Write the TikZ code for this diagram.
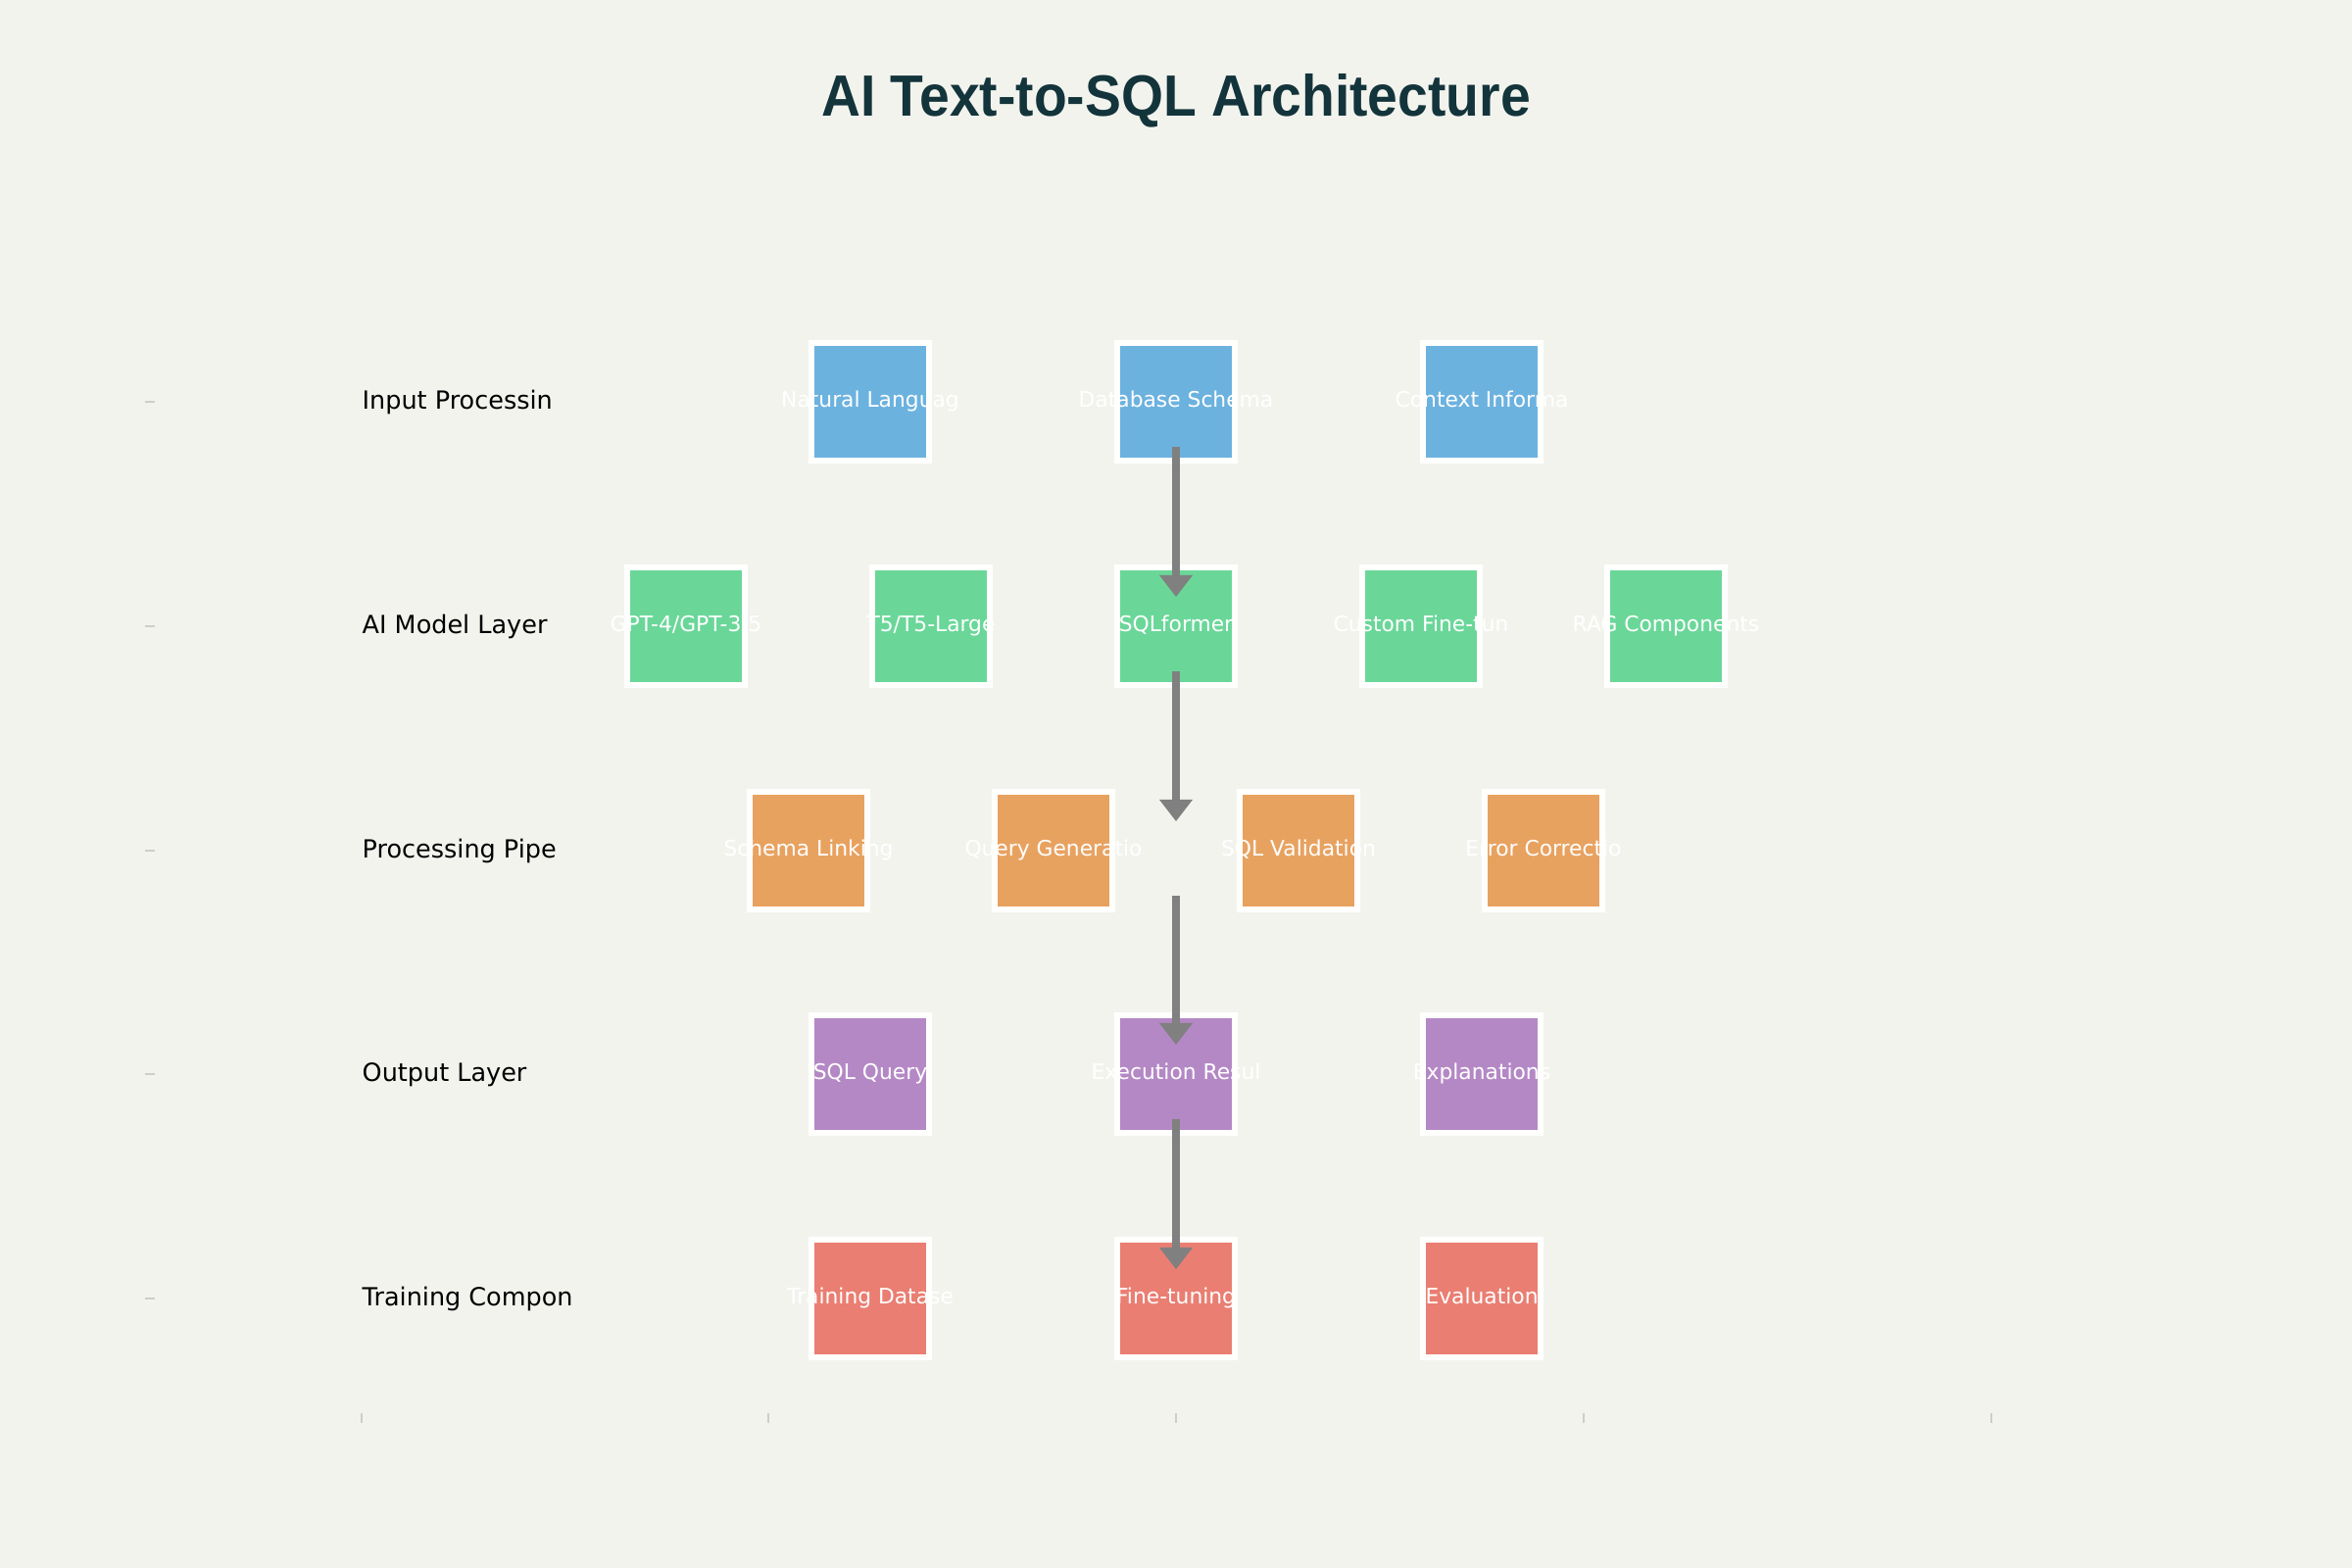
\documentclass[tikz,border=0pt]{standalone}
\usepackage{fontspec}
\setmainfont{DejaVu Sans}
\newfontfamily\titlefont[FakeStretch=0.93]{Liberation Sans}
\usetikzlibrary{arrows.meta}

\definecolor{bgpaper}{HTML}{F3F3EE}
\definecolor{titleteal}{HTML}{13343B}
\definecolor{inputblue}{HTML}{6CB2DF}
\definecolor{modelgreen}{HTML}{6AD799}
\definecolor{procorange}{HTML}{E8A260}
\definecolor{outpurple}{HTML}{B488C5}
\definecolor{trainred}{HTML}{EA7E72}
\definecolor{flowgray}{HTML}{808080}
\definecolor{tickgray}{HTML}{CFCDC8}

\tikzset{
  unitbox/.style={draw=white!96!bgpaper, line width=0.06cm, minimum width=1.2cm, minimum height=1.2cm, inner sep=0pt},
  boxtext/.style={text=white, font=\fontsize{6.2}{7.4}\selectfont, inner sep=0pt, text height=4.7pt, text depth=1.5pt},
  layername/.style={anchor=base west, font=\fontsize{7.25}{8.7}\selectfont, inner sep=0pt},
  flow/.style={flowgray, line width=0.073cm, -{Triangle[width=0.34cm,length=0.22cm,line width=0pt]}},
  axistick/.style={tickgray, line width=0.025cm},
}

\begin{document}
\begin{tikzpicture}[x=0.01cm, y=-0.01cm]
  \fill[bgpaper] (0,0) rectangle (2400,1600);
  \useasboundingbox (0,0) rectangle (2400,1600);

  \node[anchor=base, inner sep=0pt, text=titleteal, font=\titlefont\bfseries\fontsize{16.9}{20}\selectfont] (title) at (1200,119) {AI Text-to-SQL Architecture};

  % layer names
  \node[layername] (inputname) at (369,417) {Input Processin};
  \node[layername] (modelname) at (369,646) {AI Model Layer};
  \node[layername] (pipename) at (369,875) {Processing Pipe};
  \node[layername] (outputname) at (369,1103) {Output Layer};
  \node[layername] (trainname) at (369,1332) {Training Compon};

  % axis ticks
  \draw[axistick] (148,410) -- (158,410);
  \draw[axistick] (148,639) -- (158,639);
  \draw[axistick] (148,868) -- (158,868);
  \draw[axistick] (148,1096) -- (158,1096);
  \draw[axistick] (148,1325) -- (158,1325);
  \draw[axistick] (369,1442) -- (369,1452);
  \draw[axistick] (784,1442) -- (784,1452);
  \draw[axistick] (1200,1442) -- (1200,1452);
  \draw[axistick] (1616,1442) -- (1616,1452);
  \draw[axistick] (2032,1442) -- (2032,1452);

  % input processing
  \node[unitbox, fill=inputblue, label={[boxtext]center:Natural Languag}] (natlang) at (888,410) {};
  \node[unitbox, fill=inputblue, label={[boxtext]center:Database Schema}] (dbschema) at (1200,410) {};
  \node[unitbox, fill=inputblue, label={[boxtext]center:Context Informa}] (context) at (1512,410) {};

  % ai models
  \node[unitbox, fill=modelgreen, label={[boxtext]center:GPT-4/GPT-3.5}] (gpt) at (700,639) {};
  \node[unitbox, fill=modelgreen, label={[boxtext]center:T5/T5-Large}] (tfive) at (950,639) {};
  \node[unitbox, fill=modelgreen, label={[boxtext]center:SQLformer}] (sqlformer) at (1200,639) {};
  \node[unitbox, fill=modelgreen, label={[boxtext]center:Custom Fine-tun}] (custom) at (1450,639) {};
  \node[unitbox, fill=modelgreen, label={[boxtext]center:RAG Components}] (rag) at (1700,639) {};

  % processing pipeline
  \node[unitbox, fill=procorange, label={[boxtext]center:Schema Linking}] (linking) at (825,868) {};
  \node[unitbox, fill=procorange, label={[boxtext]center:Query Generatio}] (querygen) at (1075,868) {};
  \coordinate (pipegap) at (1200,868);
  \node[unitbox, fill=procorange, label={[boxtext]center:SQL Validation}] (validation) at (1325,868) {};
  \node[unitbox, fill=procorange, label={[boxtext]center:Error Correctio}] (correction) at (1575,868) {};

  % output
  \node[unitbox, fill=outpurple, label={[boxtext]center:SQL Query}] (sqlquery) at (888,1096) {};
  \node[unitbox, fill=outpurple, label={[boxtext]center:Execution Resul}] (execution) at (1200,1096) {};
  \node[unitbox, fill=outpurple, label={[boxtext]center:Explanations}] (explain) at (1512,1096) {};

  % training
  \node[unitbox, fill=trainred, label={[boxtext]center:Training Datase}] (dataset) at (888,1325) {};
  \node[unitbox, fill=trainred, label={[boxtext]center:Fine-tuning}] (finetune) at (1200,1325) {};
  \node[unitbox, fill=trainred, label={[boxtext]center:Evaluation}] (evaluation) at (1512,1325) {};

  % flow
  \draw[flow] ([yshift=-0.46cm]dbschema.center) -- ([yshift=0.3cm]sqlformer.center);
  \draw[flow] ([yshift=-0.46cm]sqlformer.center) -- ([yshift=0.3cm]pipegap);
  \draw[flow] ([yshift=-0.46cm]pipegap) -- ([yshift=0.3cm]execution.center);
  \draw[flow] ([yshift=-0.46cm]execution.center) -- ([yshift=0.3cm]finetune.center);
\end{tikzpicture}
\end{document}
